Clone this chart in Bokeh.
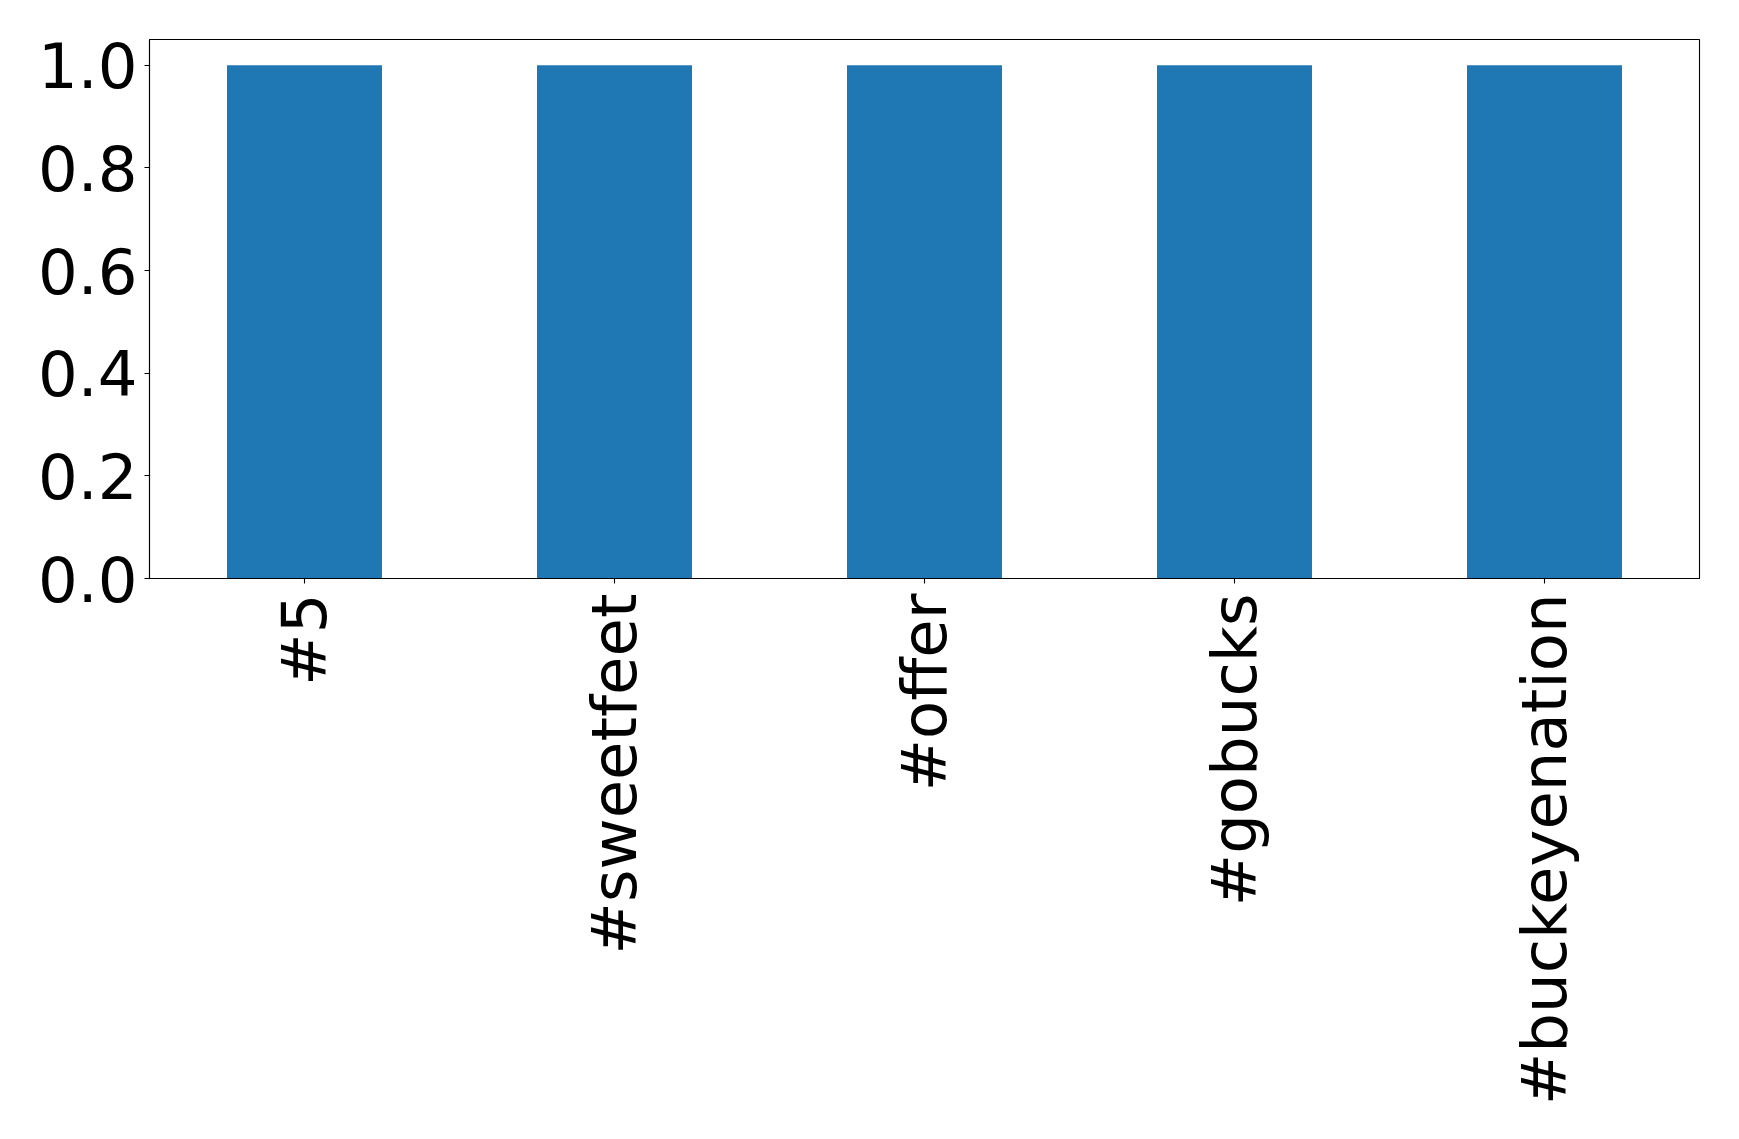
from bokeh.plotting import figure
from bokeh.models import FixedTicker, PrintfTickFormatter, Range1d, FactorRange
from bokeh.embed import file_html
from bokeh.resources import INLINE
import math

categories = ["#5", "#sweetfeet", "#offer", "#gobucks", "#buckeyenation"]
values = [1.0, 1.0, 1.0, 1.0, 1.0]
y_ticks = [0.0, 0.2, 0.4, 0.6, 0.8, 1.0]

p = figure(
    x_range=FactorRange(*categories),
    y_range=Range1d(0, 1.05),
    frame_width=1550, frame_height=539,
    min_border_left=149, min_border_top=39, min_border_right=30, min_border_bottom=553,
    output_backend="svg", toolbar_location=None,
)

p.vbar(x=categories, top=values, width=0.5, bottom=0, fill_color="#1f77b4", line_color=None)

p.xgrid.visible = False
p.ygrid.visible = False
p.outline_line_color = "black"
p.outline_line_width = 1.1
p.outline_line_alpha = 1.0
p.background_fill_color = "white"
p.border_fill_color = "white"

for ax in (p.xaxis[0], p.yaxis[0]):
    ax.major_label_text_font = "DejaVu Sans"
    ax.major_label_text_font_size = "62.5px"
    ax.major_label_text_color = "black"
    ax.axis_line_color = "black"
    ax.axis_line_width = 1.1
    ax.major_tick_line_color = "black"
    ax.major_tick_line_width = 1.1
    ax.major_tick_out = 5
    ax.major_tick_in = 0
    ax.minor_tick_line_color = None

p.xaxis[0].major_label_standoff = 10
p.yaxis[0].major_label_standoff = 7
p.yaxis[0].ticker = FixedTicker(ticks=y_ticks)
p.yaxis[0].formatter = PrintfTickFormatter(format="%.1f")
p.xaxis[0].major_label_orientation = math.pi / 2

open("out.html", "w").write(file_html(p, INLINE))
